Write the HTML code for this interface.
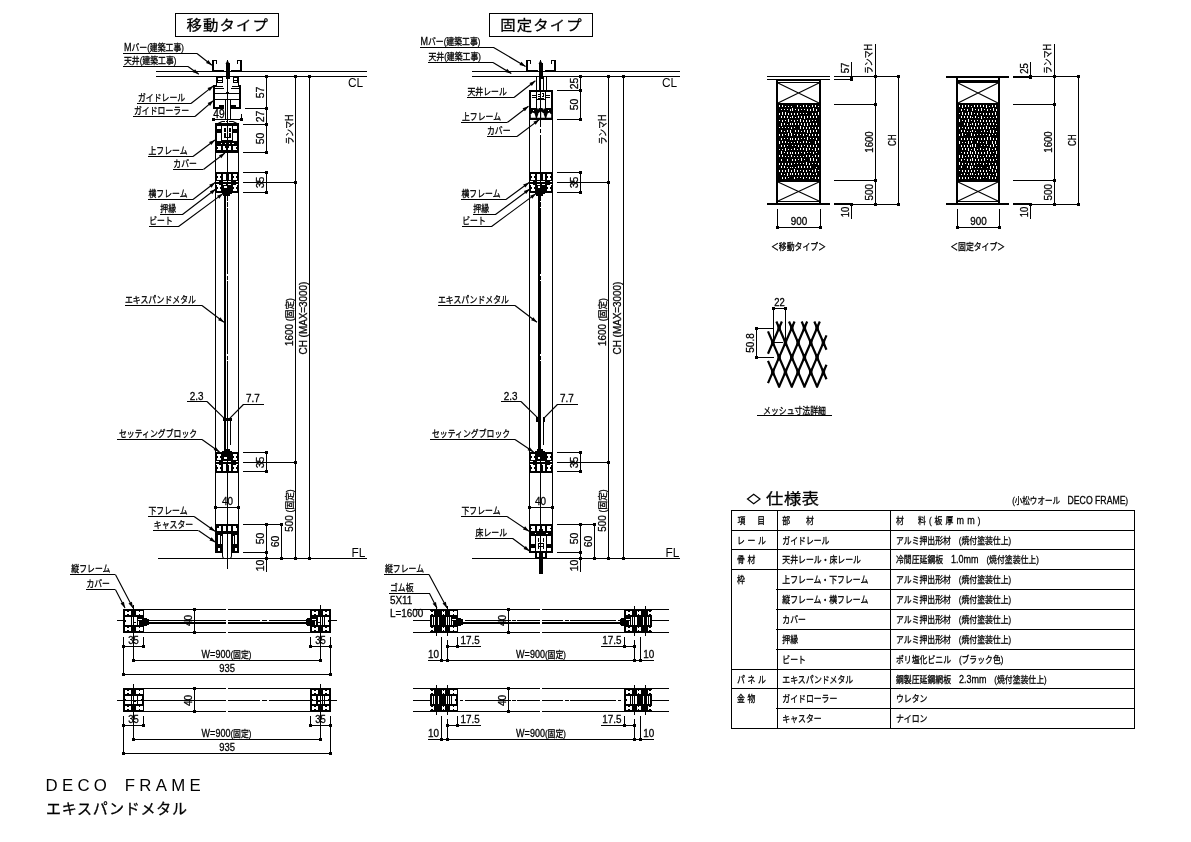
<!DOCTYPE html>
<html lang="ja"><head><meta charset="utf-8"><title>DECO FRAME エキスパンドメタル</title>
<style>html,body{margin:0;padding:0;background:#fff}svg{display:block}text{font-family:"Liberation Sans","Noto Sans CJK JP",sans-serif;fill:#000;stroke:#000;stroke-width:.3px}.c{shape-rendering:crispEdges;fill:none;stroke:#000}.a{fill:none;stroke:#000}.t2{stroke:none}.k rect{shape-rendering:crispEdges}.w{fill:#fff}.aa{shape-rendering:auto}</style></head><body>
<svg width="1191" height="842" viewBox="0 0 1191 842">
<rect class="w" width="1191" height="842"/>
<g class="k"><rect x="225.5" y="63" width="4" height="16"/>
<rect x="219" y="104.5" width="5" height="3.5"/>
<rect x="231" y="104.5" width="5" height="3.5"/>
<rect x="226" y="92" width="3" height="1"/>
<rect x="215" y="123" width="24" height="29.5"/>
<rect class="w" x="217.3" y="125.8" width="3.7" height="3.2"/>
<rect class="w" x="233" y="125.8" width="3.7" height="3.2"/>
<rect class="w" x="222.3" y="126" width="9.7" height="14.3"/>
<rect x="224.3" y="128.2" width="1.2" height="3.6"/>
<rect x="224.3" y="133.2" width="1.2" height="3.6"/>
<rect x="227.1" y="128.2" width="1.2" height="3.6"/>
<rect x="227.1" y="133.2" width="1.2" height="3.6"/>
<rect x="229.4" y="128.2" width="1.2" height="3.6"/>
<rect x="229.4" y="133.2" width="1.2" height="3.6"/>
<rect x="224.3" y="137.3" width="6.3" height=".7"/>
<rect class="w" x="217.3" y="132.5" width="3.7" height="8.5"/>
<rect class="w" x="233" y="132.5" width="3.7" height="8.5"/>
<rect class="w" x="220.5" y="142.5" width="1.5" height="1.5"/>
<rect class="w" x="224.5" y="142.5" width="1.5" height="1"/>
<rect class="w" x="228.5" y="142.5" width="1.5" height="1"/>
<rect class="w" x="232" y="142.5" width="1.5" height="1.5"/>
<rect class="w" x="217.3" y="145.5" width="3.7" height="4.8"/>
<rect class="w" x="223" y="145.5" width="3.3" height="4.8"/>
<rect class="w" x="228.3" y="145.5" width="3" height="4.8"/>
<rect class="w" x="233" y="145.5" width="3.7" height="4.8"/>
<rect x="217.3" y="147.3" width="1" height="1.2"/>
<rect x="235.7" y="147.3" width="1" height="1.2"/>
<rect x="225.3" y="145.5" width="1" height="2"/>
<rect x="228.3" y="145.5" width="1" height="2"/>
<rect x="215" y="172" width="24" height="21"/>
<rect class="w" x="217.3" y="174.3" width="4" height="5.5"/>
<rect x="217.3" y="176.15" width=".9" height="1.8"/>
<rect x="220.4" y="176.15" width=".9" height="1.8"/>
<rect class="w" x="233" y="174.3" width="3.7" height="5.5"/>
<rect x="233" y="176.15" width=".9" height="1.8"/>
<rect x="235.8" y="176.15" width=".9" height="1.8"/>
<rect class="w" x="217.3" y="185.3" width="4" height="6"/>
<rect x="217.3" y="187.4" width=".9" height="1.8"/>
<rect x="220.4" y="187.4" width=".9" height="1.8"/>
<rect class="w" x="233" y="185.3" width="3.7" height="6"/>
<rect x="233" y="187.4" width=".9" height="1.8"/>
<rect x="235.8" y="187.4" width=".9" height="1.8"/>
<rect class="w" x="223" y="174.3" width="3" height="5.5"/>
<rect class="w" x="228.5" y="174.3" width="2.8" height="5.5"/>
<rect class="w" x="224" y="186" width="3" height="1.8"/>
<rect class="w" x="215" y="181" width="3.5" height="1"/>
<rect class="w" x="215" y="183.5" width="3.5" height="1"/>
<rect class="w" x="235.5" y="181" width="3.5" height="1"/>
<rect class="w" x="235.5" y="183.5" width="3.5" height="1"/>
<rect class="w" x="223" y="180.8" width="8" height="1"/>
<rect class="w" x="223" y="183.5" width="3.3" height="1"/>
<rect class="w" x="228" y="183.5" width="3" height="1"/>
<rect x="222" y="192" width="9.5" height="2"/>
<rect x="223" y="194" width="6.5" height="2"/>
<path class="c" stroke-dasharray="4.6 1.4 4.7 1.6 66 1.5 4 1.5 73 1.5 4 1.5 100" d="M227.5 196V420"/>
<rect x="215" y="452" width="24" height="21"/>
<rect class="w" x="217.3" y="454.3" width="4" height="5.5"/>
<rect x="217.3" y="456.15" width=".9" height="1.8"/>
<rect x="220.4" y="456.15" width=".9" height="1.8"/>
<rect class="w" x="233" y="454.3" width="3.7" height="5.5"/>
<rect x="233" y="456.15" width=".9" height="1.8"/>
<rect x="235.8" y="456.15" width=".9" height="1.8"/>
<rect class="w" x="217.3" y="465.3" width="4" height="6"/>
<rect x="217.3" y="467.4" width=".9" height="1.8"/>
<rect x="220.4" y="467.4" width=".9" height="1.8"/>
<rect class="w" x="233" y="465.3" width="3.7" height="6"/>
<rect x="233" y="467.4" width=".9" height="1.8"/>
<rect x="235.8" y="467.4" width=".9" height="1.8"/>
<rect class="w" x="223" y="465.3" width="3" height="6"/>
<rect class="w" x="228.5" y="465.3" width="2.8" height="6"/>
<rect class="w" x="224" y="457.3" width="3" height="1.8"/>
<rect class="w" x="215" y="461" width="3.5" height="1"/>
<rect class="w" x="215" y="463.5" width="3.5" height="1"/>
<rect class="w" x="235.5" y="461" width="3.5" height="1"/>
<rect class="w" x="235.5" y="463.5" width="3.5" height="1"/>
<rect class="w" x="223" y="460.8" width="8" height="1"/>
<rect class="w" x="223" y="463.5" width="3.3" height="1"/>
<rect class="w" x="228" y="463.5" width="3" height="1"/>
<rect x="222" y="450.5" width="9.5" height="1.5"/>
<rect x="224" y="449" width="5.5" height="1.5"/>
<rect x="215" y="524" width="24" height="28.5"/>
<rect class="w" x="217.3" y="526.2" width="3.7" height="4.3"/>
<rect class="w" x="223" y="526.2" width="3.3" height="4.3"/>
<rect class="w" x="228.3" y="526.2" width="3" height="4.3"/>
<rect class="w" x="233" y="526.2" width="3.7" height="4.3"/>
<rect x="217.3" y="526.2" width="1.2" height="1.6"/>
<rect x="235.5" y="526.2" width="1.2" height="1.6"/>
<rect class="w" x="223" y="534" width="8.5" height="19"/>
<rect class="w" x="217.5" y="535" width="2" height="9"/>
<rect class="w" x="235" y="535" width="2" height="9"/>
<rect class="w" x="217.5" y="547.5" width="2" height="3"/>
<rect class="w" x="235" y="547.5" width="2" height="3"/>
<rect class="w" x="221" y="536" width="1" height="8"/>
<rect class="w" x="232.5" y="536" width="1" height="8"/>
<path class="a" d="M222.5 533V556Q222.5 558.5 224.5 558.5M231.5 533V556Q231.5 558.5 229.5 558.5"/>
<rect x="538.5" y="63" width="4" height="16"/>
<rect x="529" y="90" width="24" height="29.5"/>
<rect class="w" x="530.8" y="91.6" width="5" height="16.7"/>
<rect class="w" x="546.3" y="91.6" width="4.9" height="16.7"/>
<rect x="532.2" y="95" width="3.6" height="1"/>
<rect x="532.2" y="97.2" width="3.6" height="1.2"/>
<rect x="546.3" y="95" width="3.5" height="1"/>
<rect x="546.3" y="97.2" width="3.5" height="1.2"/>
<rect class="w" x="530.8" y="98.8" width=".8" height=".8"/>
<rect class="w" x="536.8" y="91.6" width="8.5" height="7.7"/>
<rect x="537.8" y="93.6" width="2.2" height=".9"/>
<rect x="537.8" y="95.6" width="2.2" height=".9"/>
<rect x="537.8" y="97.6" width="5.7" height="1.7"/>
<rect x="541.6" y="93.4" width="2" height="3.2"/>
<rect class="w" x="542.2" y="94.2" width=".8" height="1.6"/>
<rect x="540.6" y="91.6" width=".6" height="7.7"/>
<rect class="w" x="537" y="99.8" width="3.2" height="8.5"/>
<rect class="w" x="541.2" y="99.8" width="4.1" height="8.5"/>
<rect class="w" x="532.6" y="109.8" width="1.4" height="1.2"/>
<rect class="w" x="548" y="109.8" width="1.4" height="1.2"/>
<path class="w aa" d="M537 108.3L539.3 108.3L538 109.6Z"/>
<path class="w aa" d="M542.2 108.3L545.3 108.3L543.6 109.6Z"/>
<path class="w aa" d="M530.8 117.8L535.8 117.8L534.6 113.6L532.6 112.4L530.8 114.6Z"/>
<path class="w aa" d="M537 117.8L540.2 117.8L540.2 111.6L538.6 113.2Z"/>
<path class="w aa" d="M541.2 117.8L545 117.8L543.4 113.2L541.2 111.6Z"/>
<path class="w aa" d="M546.3 117.8L551.2 117.8L551.2 114.6L549.4 112.4L547.6 113.6Z"/>
<rect x="529" y="172" width="24" height="21"/>
<rect class="w" x="531.3" y="174.3" width="4" height="5.5"/>
<rect x="531.3" y="176.15" width=".9" height="1.8"/>
<rect x="534.4" y="176.15" width=".9" height="1.8"/>
<rect class="w" x="547" y="174.3" width="3.7" height="5.5"/>
<rect x="547" y="176.15" width=".9" height="1.8"/>
<rect x="549.8" y="176.15" width=".9" height="1.8"/>
<rect class="w" x="531.3" y="185.3" width="4" height="6"/>
<rect x="531.3" y="187.4" width=".9" height="1.8"/>
<rect x="534.4" y="187.4" width=".9" height="1.8"/>
<rect class="w" x="547" y="185.3" width="3.7" height="6"/>
<rect x="547" y="187.4" width=".9" height="1.8"/>
<rect x="549.8" y="187.4" width=".9" height="1.8"/>
<rect class="w" x="537" y="174.3" width="3" height="5.5"/>
<rect class="w" x="542.5" y="174.3" width="2.8" height="5.5"/>
<rect class="w" x="538" y="186" width="3" height="1.8"/>
<rect class="w" x="529" y="181" width="3.5" height="1"/>
<rect class="w" x="529" y="183.5" width="3.5" height="1"/>
<rect class="w" x="549.5" y="181" width="3.5" height="1"/>
<rect class="w" x="549.5" y="183.5" width="3.5" height="1"/>
<rect class="w" x="537" y="180.8" width="8" height="1"/>
<rect class="w" x="537" y="183.5" width="3.3" height="1"/>
<rect class="w" x="542" y="183.5" width="3" height="1"/>
<rect x="535" y="192" width="9.5" height="2"/>
<rect x="536" y="194" width="6.5" height="2"/>
<path class="c" stroke-dasharray="4.6 1.4 4.7 1.6 66 1.5 4 1.5 73 1.5 4 1.5 100" d="M540.5 196V420"/>
<rect x="529" y="452" width="24" height="21"/>
<rect class="w" x="531.3" y="454.3" width="4" height="5.5"/>
<rect x="531.3" y="456.15" width=".9" height="1.8"/>
<rect x="534.4" y="456.15" width=".9" height="1.8"/>
<rect class="w" x="547" y="454.3" width="3.7" height="5.5"/>
<rect x="547" y="456.15" width=".9" height="1.8"/>
<rect x="549.8" y="456.15" width=".9" height="1.8"/>
<rect class="w" x="531.3" y="465.3" width="4" height="6"/>
<rect x="531.3" y="467.4" width=".9" height="1.8"/>
<rect x="534.4" y="467.4" width=".9" height="1.8"/>
<rect class="w" x="547" y="465.3" width="3.7" height="6"/>
<rect x="547" y="467.4" width=".9" height="1.8"/>
<rect x="549.8" y="467.4" width=".9" height="1.8"/>
<rect class="w" x="537" y="465.3" width="3" height="6"/>
<rect class="w" x="542.5" y="465.3" width="2.8" height="6"/>
<rect class="w" x="538" y="457.3" width="3" height="1.8"/>
<rect class="w" x="529" y="461" width="3.5" height="1"/>
<rect class="w" x="529" y="463.5" width="3.5" height="1"/>
<rect class="w" x="549.5" y="461" width="3.5" height="1"/>
<rect class="w" x="549.5" y="463.5" width="3.5" height="1"/>
<rect class="w" x="537" y="460.8" width="8" height="1"/>
<rect class="w" x="537" y="463.5" width="3.3" height="1"/>
<rect class="w" x="542" y="463.5" width="3" height="1"/>
<rect x="535" y="450.5" width="9.5" height="1.5"/>
<rect x="537" y="449" width="5.5" height="1.5"/>
<rect x="529" y="524" width="24" height="29"/>
<rect class="w" x="531.3" y="526.2" width="3.7" height="4.8"/>
<rect class="w" x="537" y="526.2" width="3.3" height="4.8"/>
<rect class="w" x="542.3" y="526.2" width="3" height="4.8"/>
<rect class="w" x="547" y="526.2" width="3.7" height="4.8"/>
<rect x="531.3" y="528" width="1" height="1.2"/>
<rect x="549.7" y="528" width="1" height="1.2"/>
<rect x="539.3" y="529" width="1" height="2"/>
<rect x="542.3" y="529" width="1" height="2"/>
<rect class="w" x="534.5" y="532.5" width="1.5" height="1.5"/>
<rect class="w" x="546" y="532.5" width="1.5" height="1.5"/>
<rect class="w" x="531.3" y="535.5" width="3.7" height="8.5"/>
<rect class="w" x="547" y="535.5" width="3.7" height="8.5"/>
<rect class="w" x="536.3" y="536.2" width="9.7" height="14.3"/>
<rect x="538.2" y="538" width="1" height="4"/>
<rect x="538.2" y="544" width="1" height="5"/>
<rect x="540.4" y="538" width="1" height="4"/>
<rect x="540.4" y="544" width="1" height="5"/>
<rect x="543.2" y="538" width="1" height="4"/>
<rect x="543.2" y="544" width="1" height="5"/>
<rect x="538.2" y="542.5" width="6" height="1"/>
<rect x="538.2" y="546" width="6" height="1"/>
<rect class="w" x="531.3" y="547.5" width="3.7" height="3.2"/>
<rect class="w" x="547" y="547.5" width="3.7" height="3.2"/>
<rect x="535" y="552" width="12" height="6"/>
<rect class="w" x="537" y="553" width="1.5" height="4"/>
<rect class="w" x="540" y="553" width="1" height="4"/>
<rect class="w" x="543" y="553" width="1.5" height="4"/>
<rect x="539" y="558" width="4" height="16"/>
<rect x="123" y="609" width="21" height="24"/>
<rect class="w" x="125" y="610.7" width="6" height="4.5"/>
<rect class="w" x="136" y="610.7" width="6.5" height="4.5"/>
<rect x="127.3" y="610.7" width="1.4" height="1.3"/>
<rect x="127.3" y="613.9" width="1.4" height="1.3"/>
<rect x="138.5" y="610.7" width="1.4" height="1.3"/>
<rect x="138.5" y="613.9" width="1.4" height="1.3"/>
<rect class="w" x="125" y="626.5" width="6" height="4.5"/>
<rect class="w" x="136" y="626.5" width="6.5" height="4.5"/>
<rect x="127.3" y="626.5" width="1.4" height="1.3"/>
<rect x="127.3" y="629.7" width="1.4" height="1.3"/>
<rect x="138.5" y="626.5" width="1.4" height="1.3"/>
<rect x="138.5" y="629.7" width="1.4" height="1.3"/>
<rect class="w" x="125" y="617.3" width="4.5" height="7.5"/>
<rect x="125" y="620.3" width="1.2" height="1.4"/>
<rect class="w" x="130.3" y="617.3" width=".9" height="7.5"/>
<rect class="w" x="132.2" y="617.3" width="4.3" height="7.5"/>
<rect x="133.3" y="619" width=".9" height="4.3"/>
<rect x="133.3" y="622.3" width="2.3" height="1"/>
<rect class="w" x="138" y="618.5" width="4" height="1"/>
<rect class="w" x="138" y="620.5" width="1" height="4.3"/>
<rect x="142" y="617.5" width="5" height="8.5"/>
<rect x="147" y="618.5" width="1.5" height="6.5"/>
<rect x="310" y="609" width="21" height="24"/>
<rect class="w" x="323" y="610.7" width="6" height="4.5"/>
<rect class="w" x="311.5" y="610.7" width="6.5" height="4.5"/>
<rect x="325.3" y="610.7" width="1.4" height="1.3"/>
<rect x="325.3" y="613.9" width="1.4" height="1.3"/>
<rect x="314.1" y="610.7" width="1.4" height="1.3"/>
<rect x="314.1" y="613.9" width="1.4" height="1.3"/>
<rect class="w" x="323" y="626.5" width="6" height="4.5"/>
<rect class="w" x="311.5" y="626.5" width="6.5" height="4.5"/>
<rect x="325.3" y="626.5" width="1.4" height="1.3"/>
<rect x="325.3" y="629.7" width="1.4" height="1.3"/>
<rect x="314.1" y="626.5" width="1.4" height="1.3"/>
<rect x="314.1" y="629.7" width="1.4" height="1.3"/>
<rect class="w" x="324.5" y="617.3" width="4.5" height="7.5"/>
<rect x="327.8" y="620.3" width="1.2" height="1.4"/>
<rect class="w" x="322.8" y="617.3" width=".9" height="7.5"/>
<rect class="w" x="317.5" y="617.3" width="4.3" height="7.5"/>
<rect x="319.8" y="619" width=".9" height="4.3"/>
<rect x="318.4" y="622.3" width="2.3" height="1"/>
<rect class="w" x="312" y="618.5" width="4" height="1"/>
<rect class="w" x="315" y="620.5" width="1" height="4.3"/>
<rect x="307" y="617.5" width="5" height="8.5"/>
<rect x="305.5" y="618.5" width="1.5" height="6.5"/>
<rect x="123" y="688" width="21" height="24"/>
<rect class="w" x="125" y="689.7" width="6" height="4.5"/>
<rect class="w" x="136" y="689.7" width="6.5" height="4.5"/>
<rect x="127.3" y="689.7" width="1.4" height="1.3"/>
<rect x="127.3" y="692.9" width="1.4" height="1.3"/>
<rect x="138.5" y="689.7" width="1.4" height="1.3"/>
<rect x="138.5" y="692.9" width="1.4" height="1.3"/>
<rect class="w" x="125" y="705.5" width="6" height="4.5"/>
<rect class="w" x="136" y="705.5" width="6.5" height="4.5"/>
<rect x="127.3" y="705.5" width="1.4" height="1.3"/>
<rect x="127.3" y="708.7" width="1.4" height="1.3"/>
<rect x="138.5" y="705.5" width="1.4" height="1.3"/>
<rect x="138.5" y="708.7" width="1.4" height="1.3"/>
<rect class="w" x="125" y="696.3" width="4.5" height="7.5"/>
<rect x="125" y="699.3" width="1.2" height="1.4"/>
<rect class="w" x="130.3" y="696.3" width=".9" height="7.5"/>
<rect class="w" x="132.2" y="696.3" width="4.3" height="7.5"/>
<rect x="133.3" y="698" width=".9" height="4.3"/>
<rect x="133.3" y="701.3" width="2.3" height="1"/>
<rect class="w" x="138" y="696.3" width="4" height="7.5"/>
<rect x="140.8" y="699.3" width="1.2" height="1.4"/>
<rect x="310" y="688" width="21" height="24"/>
<rect class="w" x="323" y="689.7" width="6" height="4.5"/>
<rect class="w" x="311.5" y="689.7" width="6.5" height="4.5"/>
<rect x="325.3" y="689.7" width="1.4" height="1.3"/>
<rect x="325.3" y="692.9" width="1.4" height="1.3"/>
<rect x="314.1" y="689.7" width="1.4" height="1.3"/>
<rect x="314.1" y="692.9" width="1.4" height="1.3"/>
<rect class="w" x="323" y="705.5" width="6" height="4.5"/>
<rect class="w" x="311.5" y="705.5" width="6.5" height="4.5"/>
<rect x="325.3" y="705.5" width="1.4" height="1.3"/>
<rect x="325.3" y="708.7" width="1.4" height="1.3"/>
<rect x="314.1" y="705.5" width="1.4" height="1.3"/>
<rect x="314.1" y="708.7" width="1.4" height="1.3"/>
<rect class="w" x="324.5" y="696.3" width="4.5" height="7.5"/>
<rect x="327.8" y="699.3" width="1.2" height="1.4"/>
<rect class="w" x="322.8" y="696.3" width=".9" height="7.5"/>
<rect class="w" x="317.5" y="696.3" width="4.3" height="7.5"/>
<rect x="319.8" y="698" width=".9" height="4.3"/>
<rect x="318.4" y="701.3" width="2.3" height="1"/>
<rect class="w" x="312" y="696.3" width="4" height="7.5"/>
<rect x="312" y="699.3" width="1.2" height="1.4"/>
<rect x="430" y="609" width="28" height="24"/>
<rect class="w" x="430" y="610.7" width="4" height="4.5"/>
<rect class="w" x="441.5" y="610.7" width="3.5" height="4.5"/>
<rect class="w" x="450" y="610.7" width="6.5" height="4.5"/>
<rect x="431.3" y="610.7" width="1.4" height="1.3"/>
<rect x="431.3" y="613.9" width="1.4" height="1.3"/>
<rect x="442.6" y="610.7" width="1.3" height="1.3"/>
<rect x="442.6" y="613.9" width="1.3" height="1.3"/>
<rect x="452.5" y="610.7" width="1.4" height="1.3"/>
<rect x="452.5" y="613.9" width="1.4" height="1.3"/>
<rect class="w" x="430" y="626.5" width="4" height="4.5"/>
<rect class="w" x="441.5" y="626.5" width="3.5" height="4.5"/>
<rect class="w" x="450" y="626.5" width="6.5" height="4.5"/>
<rect x="431.3" y="626.5" width="1.4" height="1.3"/>
<rect x="431.3" y="629.7" width="1.4" height="1.3"/>
<rect x="442.6" y="626.5" width="1.3" height="1.3"/>
<rect x="442.6" y="629.7" width="1.3" height="1.3"/>
<rect x="452.5" y="626.5" width="1.4" height="1.3"/>
<rect x="452.5" y="629.7" width="1.4" height="1.3"/>
<rect class="w" x="432" y="617.3" width="1" height="7.5"/>
<rect class="w" x="434.3" y="617.3" width=".9" height="7.5"/>
<rect class="w" x="436.4" y="617.3" width=".9" height="7.5"/>
<rect class="w" x="438.4" y="617.3" width=".9" height="7.5"/>
<rect class="w" x="445.5" y="617.3" width="3.5" height="7.5"/>
<rect x="446.6" y="619" width="1" height="4.3"/>
<rect class="w" x="450.3" y="617.3" width=".8" height="7.5"/>
<rect class="w" x="452" y="618.5" width="4" height="1"/>
<rect class="w" x="452" y="620.5" width="1" height="4.3"/>
<rect x="456" y="617.5" width="5" height="8.5"/>
<rect x="461" y="618.5" width="1.5" height="6.5"/>
<rect x="624" y="609" width="28" height="24"/>
<rect class="w" x="648" y="610.7" width="4" height="4.5"/>
<rect class="w" x="637" y="610.7" width="3.5" height="4.5"/>
<rect class="w" x="625.5" y="610.7" width="6.5" height="4.5"/>
<rect x="649.3" y="610.7" width="1.4" height="1.3"/>
<rect x="649.3" y="613.9" width="1.4" height="1.3"/>
<rect x="638.1" y="610.7" width="1.3" height="1.3"/>
<rect x="638.1" y="613.9" width="1.3" height="1.3"/>
<rect x="628.1" y="610.7" width="1.4" height="1.3"/>
<rect x="628.1" y="613.9" width="1.4" height="1.3"/>
<rect class="w" x="648" y="626.5" width="4" height="4.5"/>
<rect class="w" x="637" y="626.5" width="3.5" height="4.5"/>
<rect class="w" x="625.5" y="626.5" width="6.5" height="4.5"/>
<rect x="649.3" y="626.5" width="1.4" height="1.3"/>
<rect x="649.3" y="629.7" width="1.4" height="1.3"/>
<rect x="638.1" y="626.5" width="1.3" height="1.3"/>
<rect x="638.1" y="629.7" width="1.3" height="1.3"/>
<rect x="628.1" y="626.5" width="1.4" height="1.3"/>
<rect x="628.1" y="629.7" width="1.4" height="1.3"/>
<rect class="w" x="649" y="617.3" width="1" height="7.5"/>
<rect class="w" x="646.8" y="617.3" width=".9" height="7.5"/>
<rect class="w" x="644.7" y="617.3" width=".9" height="7.5"/>
<rect class="w" x="642.7" y="617.3" width=".9" height="7.5"/>
<rect class="w" x="633" y="617.3" width="3.5" height="7.5"/>
<rect x="634.4" y="619" width="1" height="4.3"/>
<rect class="w" x="630.9" y="617.3" width=".8" height="7.5"/>
<rect class="w" x="626" y="618.5" width="4" height="1"/>
<rect class="w" x="629" y="620.5" width="1" height="4.3"/>
<rect x="621" y="617.5" width="5" height="8.5"/>
<rect x="619.5" y="618.5" width="1.5" height="6.5"/>
<rect x="430" y="688" width="28" height="24"/>
<rect class="w" x="430" y="689.7" width="4" height="4.5"/>
<rect class="w" x="441.5" y="689.7" width="3.5" height="4.5"/>
<rect class="w" x="450" y="689.7" width="6.5" height="4.5"/>
<rect x="431.3" y="689.7" width="1.4" height="1.3"/>
<rect x="431.3" y="692.9" width="1.4" height="1.3"/>
<rect x="442.6" y="689.7" width="1.3" height="1.3"/>
<rect x="442.6" y="692.9" width="1.3" height="1.3"/>
<rect x="452.5" y="689.7" width="1.4" height="1.3"/>
<rect x="452.5" y="692.9" width="1.4" height="1.3"/>
<rect class="w" x="430" y="705.5" width="4" height="4.5"/>
<rect class="w" x="441.5" y="705.5" width="3.5" height="4.5"/>
<rect class="w" x="450" y="705.5" width="6.5" height="4.5"/>
<rect x="431.3" y="705.5" width="1.4" height="1.3"/>
<rect x="431.3" y="708.7" width="1.4" height="1.3"/>
<rect x="442.6" y="705.5" width="1.3" height="1.3"/>
<rect x="442.6" y="708.7" width="1.3" height="1.3"/>
<rect x="452.5" y="705.5" width="1.4" height="1.3"/>
<rect x="452.5" y="708.7" width="1.4" height="1.3"/>
<rect class="w" x="432" y="696.3" width="1" height="7.5"/>
<rect class="w" x="434.3" y="696.3" width=".9" height="7.5"/>
<rect class="w" x="436.4" y="696.3" width=".9" height="7.5"/>
<rect class="w" x="438.4" y="696.3" width=".9" height="7.5"/>
<rect class="w" x="445.5" y="696.3" width="3.5" height="7.5"/>
<rect x="446.6" y="698" width="1" height="4.3"/>
<rect class="w" x="450.3" y="696.3" width=".8" height="7.5"/>
<rect class="w" x="452" y="696.3" width="4" height="7.5"/>
<rect x="454.8" y="699.3" width="1.2" height="1.4"/>
<rect x="624" y="688" width="28" height="24"/>
<rect class="w" x="648" y="689.7" width="4" height="4.5"/>
<rect class="w" x="637" y="689.7" width="3.5" height="4.5"/>
<rect class="w" x="625.5" y="689.7" width="6.5" height="4.5"/>
<rect x="649.3" y="689.7" width="1.4" height="1.3"/>
<rect x="649.3" y="692.9" width="1.4" height="1.3"/>
<rect x="638.1" y="689.7" width="1.3" height="1.3"/>
<rect x="638.1" y="692.9" width="1.3" height="1.3"/>
<rect x="628.1" y="689.7" width="1.4" height="1.3"/>
<rect x="628.1" y="692.9" width="1.4" height="1.3"/>
<rect class="w" x="648" y="705.5" width="4" height="4.5"/>
<rect class="w" x="637" y="705.5" width="3.5" height="4.5"/>
<rect class="w" x="625.5" y="705.5" width="6.5" height="4.5"/>
<rect x="649.3" y="705.5" width="1.4" height="1.3"/>
<rect x="649.3" y="708.7" width="1.4" height="1.3"/>
<rect x="638.1" y="705.5" width="1.3" height="1.3"/>
<rect x="638.1" y="708.7" width="1.3" height="1.3"/>
<rect x="628.1" y="705.5" width="1.4" height="1.3"/>
<rect x="628.1" y="708.7" width="1.4" height="1.3"/>
<rect class="w" x="649" y="696.3" width="1" height="7.5"/>
<rect class="w" x="646.8" y="696.3" width=".9" height="7.5"/>
<rect class="w" x="644.7" y="696.3" width=".9" height="7.5"/>
<rect class="w" x="642.7" y="696.3" width=".9" height="7.5"/>
<rect class="w" x="633" y="696.3" width="3.5" height="7.5"/>
<rect x="634.4" y="698" width="1" height="4.3"/>
<rect class="w" x="630.9" y="696.3" width=".8" height="7.5"/>
<rect class="w" x="626" y="696.3" width="4" height="7.5"/>
<rect x="626" y="699.3" width="1.2" height="1.4"/>
<rect x="778" y="104" width="41" height="77"/>
<path stroke="#fff" stroke-width="1" fill="none" shape-rendering="crispEdges" d="M779.5 105v2M782.5 105v2M785.5 106v1M788.5 106v1M791.5 106v1M797.5 105v2M800.5 106v1M803.5 105v2M806.5 105v2M809.5 106v1M812.5 105v2M815.5 105v2M818.5 106v1M781.5 109v1M784.5 109v1M787.5 109v1M790.5 109v2M792.5 108v3M795.5 109v1M798.5 109v2M801.5 109v1M804.5 109v1M807.5 109v2M810.5 109v2M813.5 108v3M816.5 109v2M779.5 113v2M782.5 112v3M785.5 112v3M788.5 113v2M791.5 113v2M794.5 113v2M797.5 113v2M800.5 113v1M803.5 113v1M806.5 113v1M812.5 113v2M815.5 113v2M818.5 112v3M781.5 116v2M784.5 116v2M787.5 116v2M790.5 117v1M792.5 116v2M795.5 117v1M798.5 116v2M801.5 116v2M804.5 116v3M807.5 116v2M810.5 116v2M813.5 116v2M816.5 116v2M779.5 120v1M782.5 120v2M785.5 120v1M788.5 119v3M791.5 120v1M794.5 120v2M797.5 120v1M800.5 119v3M803.5 120v2M806.5 120v2M809.5 120v2M812.5 120v1M815.5 120v1M781.5 123v3M784.5 123v2M787.5 124v1M790.5 123v2M792.5 123v2M795.5 123v2M798.5 123v2M801.5 123v2M804.5 123v3M807.5 123v3M810.5 123v2M813.5 123v2M816.5 123v2M779.5 127v1M782.5 127v1M785.5 127v1M788.5 127v1M791.5 127v2M794.5 127v1M800.5 126v3M803.5 127v2M806.5 127v2M809.5 127v2M812.5 127v1M815.5 127v2M818.5 127v2M781.5 130v2M784.5 131v1M787.5 130v2M790.5 130v3M795.5 130v2M798.5 130v2M801.5 131v1M804.5 130v2M807.5 130v3M810.5 130v3M813.5 130v2M816.5 130v2M779.5 134v2M782.5 134v2M785.5 134v1M788.5 133v3M791.5 133v3M794.5 134v1M797.5 134v2M800.5 134v1M803.5 134v2M806.5 134v1M809.5 134v2M812.5 134v2M815.5 134v2M818.5 134v2M781.5 138v2M784.5 138v1M787.5 138v1M790.5 138v2M792.5 138v2M795.5 138v2M798.5 138v2M801.5 138v1M804.5 138v1M807.5 137v3M810.5 138v1M813.5 138v1M816.5 138v2M779.5 141v3M782.5 141v2M785.5 141v2M788.5 142v1M791.5 142v1M794.5 142v1M797.5 141v2M800.5 142v1M803.5 141v2M806.5 141v2M809.5 142v1M815.5 141v3M818.5 141v2M781.5 145v2M784.5 145v2M787.5 145v1M792.5 145v1M795.5 145v1M798.5 145v2M801.5 145v2M804.5 145v1M807.5 145v2M810.5 145v2M813.5 145v2M816.5 145v2M779.5 149v1M782.5 149v1M785.5 148v3M788.5 149v1M791.5 149v1M794.5 148v2M797.5 149v1M800.5 148v2M803.5 148v2M806.5 148v3M809.5 148v2M812.5 149v1M815.5 148v3M818.5 148v2M781.5 151v3M784.5 152v1M787.5 152v2M790.5 152v2M792.5 152v2M795.5 152v2M798.5 152v2M801.5 152v1M804.5 152v2M807.5 152v1M810.5 152v1M813.5 152v2M816.5 152v1M779.5 155v2M782.5 155v2M785.5 156v1M788.5 156v1M791.5 155v2M794.5 156v1M797.5 156v1M800.5 156v1M803.5 156v1M806.5 155v2M809.5 155v2M812.5 156v1M815.5 155v2M818.5 155v2M781.5 159v2M787.5 159v2M792.5 159v2M795.5 159v2M798.5 159v1M801.5 158v3M804.5 159v1M810.5 158v3M813.5 158v3M816.5 159v2M779.5 163v2M782.5 163v2M785.5 163v2M788.5 163v2M791.5 163v2M794.5 163v1M797.5 163v1M800.5 163v1M803.5 163v1M806.5 162v3M809.5 163v2M812.5 163v1M815.5 163v1M818.5 163v2M781.5 166v2M784.5 166v2M787.5 167v1M790.5 167v1M792.5 167v1M795.5 167v1M798.5 166v2M801.5 166v2M804.5 166v2M807.5 166v2M810.5 166v2M816.5 167v1M779.5 170v2M782.5 170v2M785.5 170v2M788.5 169v3M791.5 170v2M794.5 169v3M797.5 170v2M800.5 170v1M803.5 170v2M806.5 170v2M809.5 170v1M812.5 170v2M815.5 169v3M818.5 170v1M781.5 173v2M784.5 174v1M787.5 173v3M790.5 173v2M792.5 173v2M795.5 173v2M798.5 173v2M801.5 173v2M804.5 173v2M807.5 173v2M810.5 173v2M813.5 174v1M816.5 173v2M782.5 177v2M785.5 177v2M788.5 177v1M794.5 177v2M797.5 177v1M800.5 177v1M803.5 177v2M806.5 177v1M809.5 177v2M812.5 177v1M815.5 177v2M818.5 177v2"/>
<rect x="958" y="104" width="40" height="77"/>
<path stroke="#fff" stroke-width="1" fill="none" shape-rendering="crispEdges" d="M959.5 105v2M962.5 105v3M965.5 105v2M968.5 105v2M971.5 106v1M974.5 105v2M977.5 105v2M980.5 105v2M983.5 105v2M986.5 105v3M989.5 106v1M992.5 105v2M995.5 105v2M961.5 109v2M964.5 109v1M967.5 109v2M972.5 108v3M975.5 109v1M978.5 109v2M981.5 108v3M984.5 109v1M987.5 109v2M990.5 109v1M993.5 108v3M996.5 109v2M959.5 113v1M962.5 112v3M965.5 113v2M968.5 112v3M971.5 112v3M974.5 113v1M977.5 113v2M980.5 113v1M983.5 113v2M986.5 113v2M989.5 113v2M992.5 113v2M995.5 112v3M961.5 116v2M964.5 116v2M967.5 116v2M970.5 116v2M972.5 117v1M975.5 116v2M978.5 117v1M981.5 116v3M984.5 117v1M987.5 117v1M990.5 117v1M993.5 117v1M996.5 116v2M959.5 119v3M962.5 120v1M965.5 120v2M968.5 119v3M971.5 120v1M974.5 120v2M977.5 120v1M980.5 120v2M983.5 120v2M986.5 120v2M989.5 120v2M992.5 120v2M995.5 120v2M964.5 123v2M967.5 123v3M970.5 124v1M972.5 123v2M975.5 123v3M978.5 123v2M981.5 123v2M984.5 124v1M987.5 123v2M990.5 123v2M993.5 123v2M996.5 124v1M959.5 127v2M962.5 127v1M965.5 127v2M968.5 127v2M971.5 127v2M974.5 127v2M977.5 127v2M980.5 127v2M983.5 127v2M986.5 126v3M989.5 127v2M992.5 127v1M995.5 127v1M961.5 130v2M964.5 130v2M967.5 131v1M970.5 131v1M972.5 130v2M975.5 131v1M981.5 131v1M984.5 130v2M987.5 131v1M990.5 130v3M993.5 130v3M996.5 131v1M959.5 134v2M962.5 133v3M965.5 134v1M971.5 133v3M974.5 134v2M977.5 134v1M980.5 134v1M983.5 134v1M986.5 134v1M989.5 134v2M992.5 134v1M995.5 134v1M961.5 138v2M964.5 138v2M967.5 138v2M970.5 138v2M972.5 138v2M975.5 138v1M978.5 138v2M981.5 138v2M984.5 138v2M987.5 137v3M990.5 137v3M993.5 138v2M996.5 138v2M959.5 141v3M962.5 142v1M965.5 142v1M968.5 141v3M971.5 141v2M977.5 141v2M980.5 142v1M983.5 142v1M986.5 141v3M992.5 141v3M995.5 141v3M961.5 145v2M964.5 145v2M967.5 145v2M970.5 145v2M972.5 144v3M975.5 144v3M981.5 145v1M984.5 145v1M987.5 145v1M990.5 145v2M993.5 144v3M996.5 145v1M962.5 148v2M965.5 148v2M968.5 148v3M971.5 149v1M974.5 148v3M977.5 149v1M980.5 148v2M983.5 149v1M986.5 148v2M989.5 148v3M992.5 149v1M995.5 148v2M961.5 152v1M964.5 152v2M967.5 152v2M970.5 151v3M972.5 152v2M975.5 151v3M978.5 152v2M981.5 152v2M984.5 152v2M987.5 151v3M990.5 152v2M993.5 152v1M996.5 151v3M959.5 155v3M962.5 155v3M965.5 156v1M968.5 155v2M971.5 155v2M974.5 155v2M977.5 155v3M980.5 156v1M983.5 156v1M986.5 155v2M989.5 155v2M992.5 156v1M995.5 155v2M961.5 159v2M964.5 159v1M967.5 159v2M970.5 159v2M972.5 158v3M975.5 159v2M978.5 159v2M981.5 159v2M984.5 158v3M987.5 159v1M990.5 159v2M993.5 159v2M996.5 159v1M959.5 162v3M962.5 163v2M965.5 163v1M968.5 163v2M971.5 163v2M974.5 163v2M977.5 163v1M980.5 163v1M983.5 163v2M986.5 163v1M989.5 163v2M992.5 163v1M995.5 163v2M961.5 166v2M967.5 166v2M970.5 166v3M972.5 166v2M975.5 167v1M978.5 167v1M981.5 167v1M987.5 167v1M990.5 166v3M993.5 166v2M996.5 166v3M959.5 170v1M962.5 170v2M965.5 170v2M968.5 170v2M971.5 170v2M974.5 170v2M977.5 170v1M980.5 170v2M983.5 170v2M986.5 170v2M989.5 170v1M992.5 169v3M995.5 170v2M961.5 174v1M964.5 173v2M967.5 174v1M970.5 173v2M972.5 173v2M975.5 174v1M978.5 173v2M981.5 173v2M984.5 173v2M987.5 173v2M990.5 174v1M993.5 174v1M996.5 173v3M959.5 177v2M962.5 177v2M965.5 177v2M968.5 177v2M971.5 177v1M974.5 177v1M977.5 177v2M980.5 177v2M983.5 177v1M986.5 177v1M989.5 176v3M992.5 177v2M995.5 177v2"/></g>
<path class="c" stroke-width="1" d="M156 71.5H367M156 76.5H367M158 558.5H367M212 60.5H217M237 60.5H242M216.5 60V64M237.5 60V64M227.5 60V196M215.5 123V553M238.5 123V553M216.5 77V86M238.5 77V86M213 85.5H217M238 85.5H241M214 93.5H240M214 99.5H240M217 77.5H223M217 82.5H223M217.5 77V83M222.5 77V83M233 77.5H238M233 82.5H238M233.5 77V83M237.5 77V83M217 80.5H222M233 80.5H238M215 86.5H223M215 88.5H224M232 86.5H240M231 88.5H240M225.5 99V120M230.5 99V120M213 119.5H242M241.5 114V119M222 121.5H225M226 121.5H228M229 121.5H233M227.5 420V569M230.5 420V445M215 507.5H239M266.5 76V153M245 108.5H266M243 124.5H266M243 152.5H266M266.5 172V193M243 172.5H266M243 192.5H266M243 182.5H295M266.5 452V472M243 452.5H266M243 471.5H266M243 462.5H295M266.5 524V572M243 524.5H282M243 552.5H266M281.5 524V559M295.5 76V559M309.5 76V559M123 53.5H197M123 66.5H188M137 103.5H191M133 116.5H195M148 156.5H193M173 169.5H203.4M148 516.5H194.1M152.8 530.5H198.4M148 199.5H193M160 214.5H182.5M149 226.5H178.6M125 305.5H202M117 439.5H202M187 401.5H207M243.4 404.5H264M472 71.5H680M472 76.5H680M472 558.5H680M526 60.5H531M551 60.5H556M530.5 60V64M551.5 60V64M540.5 60V127M540.5 128.5V133M540.5 134.5V196M529.5 90V553M552.5 90V553M536.5 77V91M543.5 77V91M546.5 77V91M540.5 420V559M543.5 420V445M529 507.5H553M580.5 76V120M557 90.5H580M557 119.5H580M580.5 172V193M557 172.5H580M557 192.5H580M557 182.5H608M580.5 452V472M557 452.5H580M557 471.5H580M557 462.5H608M580.5 524V572M557 524.5H595M557 552.5H580M594.5 524V559M608.5 76V559M623.5 76V559M420 47.5H493.6M428 62.5H493M467 97.5H514M461 122.5H507.3M486.5 136.5H517M461 516.5H507.1M475 538.5H512.7M461 199.5H506M473 214.5H495.5M462 226.5H491.6M438 305.5H515M430 439.5H515M501 401.5H521M557.4 404.5H578M175 13.5H279M175 36.5H279M175.5 13V37M278.5 13V37M489 13.5H593M489 36.5H593M489.5 13V37M592.5 13V37M144 609.5H226M228 609.5H310M144 632.5H226M228 632.5H310M117 620.5H123M331 620.5H337M146 620.5H226M228 620.5H260M262 620.5H267M269 620.5H308M194.5 609V633M123 646.5H144M310 646.5H331M143.5 637V647M310.5 637V647M123.5 637V675M330.5 637V675M133.5 605V661M320.5 605V661M133 660.5H321M123 674.5H331M144 688.5H226M228 688.5H310M144 711.5H226M228 711.5H310M117 700.5H123M331 700.5H337M123 700.5H226M228 700.5H260M262 700.5H267M269 700.5H331M194.5 688V712M123 725.5H144M310 725.5H331M143.5 716V726M310.5 716V726M123.5 716V754M330.5 716V754M133.5 684V740M320.5 684V740M133 739.5H321M123 753.5H331M70 574.5H115.4M86 589.5H115.4M413 609.5H540M542 609.5H669M413 632.5H540M542 632.5H669M413 620.5H430M652 620.5H669M463 620.5H463.3M464.8 620.5H510.8M512.3 620.5H515.9M517.4 620.5H540M542 620.5H563.4M564.9 620.5H568.5M570 620.5H616M617.5 620.5H621M508.5 609V633M436.5 606V636M447.5 606V636M634.5 606V636M645.5 606V636M447 646.5H481M457.5 637V647M601 646.5H635M624.5 637V647M428 660.5H654M441.5 637V661M447.5 640V661M634.5 640V661M640.5 637V661M413 688.5H540M542 688.5H669M413 711.5H540M542 711.5H669M413 700.5H430M652 700.5H669M459.7 700.5H463.3M464.8 700.5H510.8M512.3 700.5H515.9M517.4 700.5H540M542 700.5H563.4M564.9 700.5H568.5M570 700.5H616M617.5 700.5H621.1M622.6 700.5H623M508.5 688V712M436.5 685V715M447.5 685V715M634.5 685V715M645.5 685V715M447 725.5H481M457.5 716V726M601 725.5H635M624.5 716V726M428 739.5H654M441.5 716V740M447.5 719V740M634.5 719V740M640.5 716V740M384 574.5H429M389 593.5H429.5M767 76.5H830M767 79.5H830M834 76.5H852M834 79.5H852M852 76.5H899M851.5 62V81M776 80.5H821M778 82.5H819M778 103.5H819M778 181.5H819M778 201.5H819M852 204.5H899M851.5 204V219M875.5 44V205M898.5 76V205M834 104.5H875M834 180.5H875M777.5 209V229M820.5 209V229M777 227.5H821M1031 76.5H1079M1030.5 62V78M958 82.5H998M958 103.5H998M958 181.5H998M958 201.5H998M1031 204.5H1079M1030.5 204V219M1054.5 44V205M1078.5 76V205M1013 104.5H1054M1013 180.5H1054M957.5 209V229M999.5 209V229M957 227.5H1000M773 308.5H786M773.5 308V342M785.5 308V342M756.5 328V358M756 328.5H774M756 357.5H774M774 342.5H783M757 415.5H832M731 510.5H1135M731 728.5H1135M731.5 510V729M1134.5 510V729M777.5 510V728M890.5 510V728M731 530.5H1134M731 549.5H1134M731 569.5H1134M776 589.5H1134M776 609.5H1134M776 629.5H1134M776 649.5H1134M731 669.5H1134M731 688.5H1134M776 708.5H1134"/>
<path class="c" stroke-width="1.5" d="M956 80.75H1000"/>
<path class="c" stroke-width="2" d="M213 60V72M241 60V72M212 71H224M231 71H242M214 85V109M240 85V109M213 108H224M231 108H241M225 193V453M527 60V72M555 60V72M526 71H538M545 71H556M540 77V91M539 193V453M537 417V422M544 417V422M146 623H226M228 623H308M461 623H540M542 623H622M777 80V204M820 80V204M767 204H830M834 204H852M946 77H1009M1013 77H1031M957 78V204M999 78V204M946 204H1009M1013 204H1031"/>
<path class="c" stroke-width="3" d="M223 419.5H232"/>
<path class="a" stroke-width="1.15" d="M218 123.5L222 121.5M233 121.5L237 123.5M197 53.5L211.9 65.2M188 66.5L198.8 74.3M191 103.5L213.4 85.9M195 116.5L213.4 100.6M193 156.5L215 140M203.4 169.5L224.9 153M194.1 516.5L215 531.3M198.4 530.5L215.5 542.2M193 199.5L215.1 182.5M182.5 214.5L215.8 189M178.6 226.5L223 193.6M202 305.5L224 322.3M202 439.5L219.6 452M207 401.5L224.5 418.6M243.4 404.5L229.5 418.6M493.6 47.5L525.6 66.4M493 62.5L511.3 73.5M514 97.5L535.4 80.7M507.3 122.5L528.5 106.2M517 136.5L539.3 119.6M507.1 516.5L529 531.3M512.7 538.5L529.5 551M506 199.5L529.1 182.5M495.5 214.5L529.8 189M491.6 226.5L536 193.6M515 305.5L537 322.3M515 439.5L533.6 452M521 401.5L538.5 418.6M557.4 404.5L543.5 418.6M115.4 574.5L133 608M115.4 589.5L125 608M429 574.5L447 608M429.5 593.5L437 608.3M778 83L819 103M778 103L819 83M778 182L819 201M778 201L819 182M958 83L998 103M958 103L998 83M958 182L998 201M958 201L998 182"/>
<g class="k"><path class="aa" d="M227.5 60L229.5 64H225.5Z"/>
<rect x="211.8" y="117.8" width="3.4" height="3.4"/>
<rect x="239.8" y="117.8" width="3.4" height="3.4"/>
<rect x="214" y="506" width="3" height="3"/>
<rect x="237" y="506" width="3" height="3"/>
<rect x="265" y="75" width="3" height="3"/>
<rect x="265" y="107" width="3" height="3"/>
<rect x="265" y="123" width="3" height="3"/>
<rect x="265" y="151" width="3" height="3"/>
<rect x="265" y="171" width="3" height="3"/>
<rect x="265" y="191" width="3" height="3"/>
<rect x="294" y="181" width="3" height="3"/>
<rect x="265" y="451" width="3" height="3"/>
<rect x="265" y="470" width="3" height="3"/>
<rect x="294" y="461" width="3" height="3"/>
<rect x="265" y="523" width="3" height="3"/>
<rect x="265" y="551" width="3" height="3"/>
<rect x="265" y="557" width="3" height="3"/>
<rect x="280" y="523" width="3" height="3"/>
<rect x="280" y="557" width="3" height="3"/>
<rect x="294" y="75" width="3" height="3"/>
<rect x="294" y="557" width="3" height="3"/>
<rect x="308" y="75" width="3" height="3"/>
<rect x="308" y="557" width="3" height="3"/>
<path class="aa" d="M211.9 65.2L206.01 62.99L208.35 60Z"/>
<path class="aa" d="M198.8 74.3L192.82 72.33L195.05 69.25Z"/>
<path class="aa" d="M213.4 85.9L209.86 91.1L207.51 88.11Z"/>
<path class="aa" d="M213.4 100.6L210.1 105.96L207.62 103.09Z"/>
<path class="aa" d="M215 140L211.34 145.12L209.06 142.08Z"/>
<path class="aa" d="M224.9 153L221.3 158.16L218.98 155.15Z"/>
<path class="aa" d="M215 531.3L209.01 529.38L211.2 526.28Z"/>
<path class="aa" d="M215.5 542.2L209.48 540.38L211.62 537.24Z"/>
<path class="aa" d="M215.1 182.5L211.5 187.66L209.19 184.65Z"/>
<path class="aa" d="M215.8 189L212.19 194.16L209.88 191.14Z"/>
<path class="aa" d="M223 193.6L219.31 198.7L217.05 195.65Z"/>
<path class="aa" d="M224 322.3L218.08 320.17L220.38 317.15Z"/>
<path class="aa" d="M219.6 452L213.61 450.07L215.81 446.98Z"/>
<path class="aa" d="M540.5 60L542.5 64H538.5Z"/>
<rect x="528" y="506" width="3" height="3"/>
<rect x="551" y="506" width="3" height="3"/>
<rect x="579" y="75" width="3" height="3"/>
<rect x="579" y="89" width="3" height="3"/>
<rect x="579" y="118" width="3" height="3"/>
<rect x="579" y="171" width="3" height="3"/>
<rect x="579" y="191" width="3" height="3"/>
<rect x="607" y="181" width="3" height="3"/>
<rect x="579" y="451" width="3" height="3"/>
<rect x="579" y="470" width="3" height="3"/>
<rect x="607" y="461" width="3" height="3"/>
<rect x="579" y="523" width="3" height="3"/>
<rect x="579" y="551" width="3" height="3"/>
<rect x="579" y="557" width="3" height="3"/>
<rect x="593" y="523" width="3" height="3"/>
<rect x="593" y="557" width="3" height="3"/>
<rect x="607" y="75" width="3" height="3"/>
<rect x="607" y="557" width="3" height="3"/>
<rect x="622" y="75" width="3" height="3"/>
<rect x="622" y="557" width="3" height="3"/>
<path class="aa" d="M525.6 66.4L519.47 64.98L521.4 61.71Z"/>
<path class="aa" d="M511.3 73.5L505.18 72.04L507.14 68.78Z"/>
<path class="aa" d="M535.4 80.7L531.85 85.9L529.51 82.91Z"/>
<path class="aa" d="M528.5 106.2L524.9 111.36L522.59 108.35Z"/>
<path class="aa" d="M539.3 119.6L535.67 124.74L533.37 121.71Z"/>
<path class="aa" d="M529 531.3L522.96 529.51L525.09 526.37Z"/>
<path class="aa" d="M529.5 551L523.55 548.94L525.82 545.89Z"/>
<path class="aa" d="M529.1 182.5L525.39 187.59L523.14 184.53Z"/>
<path class="aa" d="M529.8 189L526.12 194.1L523.85 191.05Z"/>
<path class="aa" d="M536 193.6L532.31 198.7L530.05 195.65Z"/>
<path class="aa" d="M537 322.3L531.08 320.17L533.38 317.15Z"/>
<path class="aa" d="M533.6 452L527.56 450.23L529.68 447.08Z"/>
<rect x="193" y="608" width="3" height="3"/>
<rect x="193" y="631" width="3" height="3"/>
<rect x="122" y="645" width="3" height="3"/>
<rect x="142" y="645" width="3" height="3"/>
<rect x="309" y="645" width="3" height="3"/>
<rect x="329" y="645" width="3" height="3"/>
<rect x="132" y="659" width="3" height="3"/>
<rect x="319" y="659" width="3" height="3"/>
<rect x="122" y="673" width="3" height="3"/>
<rect x="329" y="673" width="3" height="3"/>
<rect x="193" y="687" width="3" height="3"/>
<rect x="193" y="710" width="3" height="3"/>
<rect x="122" y="724" width="3" height="3"/>
<rect x="142" y="724" width="3" height="3"/>
<rect x="309" y="724" width="3" height="3"/>
<rect x="329" y="724" width="3" height="3"/>
<rect x="132" y="738" width="3" height="3"/>
<rect x="319" y="738" width="3" height="3"/>
<rect x="122" y="752" width="3" height="3"/>
<rect x="329" y="752" width="3" height="3"/>
<path class="aa" d="M133 608L128.53 603.57L131.89 601.8Z"/>
<path class="aa" d="M125 608L120.55 603.55L123.92 601.8Z"/>
<rect x="507" y="608" width="3" height="3"/>
<rect x="507" y="631" width="3" height="3"/>
<rect x="446" y="645" width="3" height="3"/>
<rect x="456" y="645" width="3" height="3"/>
<rect x="633" y="645" width="3" height="3"/>
<rect x="623" y="645" width="3" height="3"/>
<rect x="440" y="659" width="3" height="3"/>
<rect x="446" y="659" width="3" height="3"/>
<rect x="633" y="659" width="3" height="3"/>
<rect x="639" y="659" width="3" height="3"/>
<rect x="507" y="687" width="3" height="3"/>
<rect x="507" y="710" width="3" height="3"/>
<rect x="446" y="724" width="3" height="3"/>
<rect x="456" y="724" width="3" height="3"/>
<rect x="633" y="724" width="3" height="3"/>
<rect x="623" y="724" width="3" height="3"/>
<rect x="440" y="738" width="3" height="3"/>
<rect x="446" y="738" width="3" height="3"/>
<rect x="633" y="738" width="3" height="3"/>
<rect x="639" y="738" width="3" height="3"/>
<path class="aa" d="M447 608L442.49 603.61L445.83 601.82Z"/>
<path class="aa" d="M437 608.3L432.59 603.81L435.98 602.09Z"/>
<rect x="850" y="76" width="3" height="4.5"/>
<rect x="849.8" y="202.8" width="3.4" height="3.4"/>
<rect x="874" y="75" width="3" height="3"/>
<rect x="874" y="103" width="3" height="3"/>
<rect x="874" y="179" width="3" height="3"/>
<rect x="874" y="203" width="3" height="3"/>
<rect x="897" y="75" width="3" height="3"/>
<rect x="897" y="203" width="3" height="3"/>
<rect x="776" y="226" width="3" height="3"/>
<rect x="819" y="226" width="3" height="3"/>
<rect x="1028.8" y="75.3" width="3.4" height="3.4"/>
<rect x="1028.8" y="202.8" width="3.4" height="3.4"/>
<rect x="1053" y="75" width="3" height="3"/>
<rect x="1053" y="103" width="3" height="3"/>
<rect x="1053" y="179" width="3" height="3"/>
<rect x="1053" y="203" width="3" height="3"/>
<rect x="1077" y="75" width="3" height="3"/>
<rect x="1077" y="203" width="3" height="3"/>
<rect x="956" y="226" width="3" height="3"/>
<rect x="998" y="226" width="3" height="3"/>
<path class="aa" fill="none" stroke="#000" stroke-width="2.2" d="M768 360.84L779.47 387.5M768 331.44L792.12 387.5M768 353.76L781.88 321.5M776.37 321.5L804.77 387.5M768 383.16L794.53 321.5M789.02 321.5L817.42 387.5M778.78 387.5L807.18 321.5M801.67 321.5L826.5 379.2M791.43 387.5L819.83 321.5M814.32 321.5L826.5 349.8M804.08 387.5L826.5 335.4M816.73 387.5L826.5 364.8"/>
<path class="aa" fill="none" stroke="#000" stroke-width="3.4" d="M772.8 339.4V345.8M779.12 324.7V331.1M785.45 339.4V345.8M791.77 324.7V331.1M798.1 339.4V345.8M804.42 324.7V331.1M810.75 339.4V345.8M817.08 324.7V331.1M823.4 339.4V345.8M772.8 368.8V375.2M779.12 354.1V360.5M785.45 368.8V375.2M791.77 354.1V360.5M798.1 368.8V375.2M804.42 354.1V360.5M810.75 368.8V375.2M817.08 354.1V360.5M823.4 368.8V375.2"/>
<rect x="772" y="307" width="3" height="3"/>
<rect x="784" y="307" width="3" height="3"/>
<rect x="755" y="327" width="3" height="3"/>
<rect x="755" y="356" width="3" height="3"/>
<path class="aa" fill="none" stroke="#000" stroke-width="1.2" d="M747.5 499L753.7 494.3L760 499L753.7 503.7Z"/></g>
<g opacity=".999"><text transform="translate(219 118) scale(.85 1)" font-size="12" text-anchor="middle">49</text>
<text transform="translate(227.5 505) scale(.9 1)" font-size="11" text-anchor="middle">40</text>
<text transform="translate(263.8 92.5) rotate(-90) scale(.95 1)" font-size="11" text-anchor="middle">57</text>
<text transform="translate(263.8 116.5) rotate(-90) scale(.95 1)" font-size="11" text-anchor="middle">27</text>
<text transform="translate(263.8 138.5) rotate(-90) scale(.95 1)" font-size="11" text-anchor="middle">50</text>
<text transform="translate(263.8 182.5) rotate(-90) scale(.95 1)" font-size="11" text-anchor="middle">35</text>
<text transform="translate(263.8 462.5) rotate(-90) scale(.95 1)" font-size="11" text-anchor="middle">35</text>
<text transform="translate(263.8 538.5) rotate(-90) scale(.95 1)" font-size="11" text-anchor="middle">50</text>
<text transform="translate(263.8 565.5) rotate(-90) scale(.95 1)" font-size="11" text-anchor="middle">10</text>
<text transform="translate(278.8 541.5) rotate(-90) scale(.95 1)" font-size="11" text-anchor="middle">60</text>
<text transform="translate(292.7 129.5) rotate(-90) scale(.82 1)" font-size="9.6" text-anchor="middle">ランマ<tspan font-size="11">H</tspan></text>
<text transform="translate(292.7 322) rotate(-90) scale(.9 1)" font-size="9.6" text-anchor="middle"><tspan font-size="11">1600 </tspan>(固定)</text>
<text transform="translate(292.7 510.5) rotate(-90) scale(.9 1)" font-size="9.6" text-anchor="middle"><tspan font-size="11">500 </tspan>(固定)</text>
<text transform="translate(306.5 318) rotate(-90) scale(.9 1)" font-size="11" text-anchor="middle">CH (MAX=3000)</text>
<text class="t2" transform="translate(348 87) scale(.95 1)" font-size="12.5">CL</text>
<text class="t2" transform="translate(351.5 556.5) scale(.95 1)" font-size="12.5">FL</text>
<text transform="translate(124 50.5) scale(.82 1)" font-size="9.6"><tspan font-size="11">M</tspan>バー(建築工事)</text>
<text transform="translate(124 63.5) scale(.82 1)" font-size="9.6">天井(建築工事)</text>
<text transform="translate(138 100.5) scale(.82 1)" font-size="9.6">ガイドレール</text>
<text transform="translate(134 113.5) scale(.82 1)" font-size="9.6">ガイドローラー</text>
<text transform="translate(148.5 153.5) scale(.82 1)" font-size="9.6">上フレーム</text>
<text transform="translate(173.3 166.5) scale(.82 1)" font-size="9.6">カバー</text>
<text transform="translate(148.5 513.5) scale(.82 1)" font-size="9.6">下フレーム</text>
<text transform="translate(153.8 527.5) scale(.82 1)" font-size="9.6">キャスター</text>
<text transform="translate(148.5 196.5) scale(.82 1)" font-size="9.6">横フレーム</text>
<text transform="translate(160.3 211.5) scale(.82 1)" font-size="9.6">押縁</text>
<text transform="translate(149.2 223.5) scale(.82 1)" font-size="9.6">ビート</text>
<text transform="translate(125 302.5) scale(.82 1)" font-size="9.6">エキスパンドメタル</text>
<text transform="translate(119 436.5) scale(.82 1)" font-size="9.6">セッティングブロック</text>
<text transform="translate(189.7 399.5) scale(.9 1)" font-size="11">2.3</text>
<text transform="translate(246 401.5) scale(.9 1)" font-size="11">7.7</text>
<text transform="translate(540.5 505) scale(.9 1)" font-size="11" text-anchor="middle">40</text>
<text transform="translate(577.8 83.5) rotate(-90) scale(.95 1)" font-size="11" text-anchor="middle">25</text>
<text transform="translate(577.8 104.5) rotate(-90) scale(.95 1)" font-size="11" text-anchor="middle">50</text>
<text transform="translate(577.8 182.5) rotate(-90) scale(.95 1)" font-size="11" text-anchor="middle">35</text>
<text transform="translate(577.8 462.5) rotate(-90) scale(.95 1)" font-size="11" text-anchor="middle">35</text>
<text transform="translate(577.8 538.5) rotate(-90) scale(.95 1)" font-size="11" text-anchor="middle">50</text>
<text transform="translate(577.8 565.5) rotate(-90) scale(.95 1)" font-size="11" text-anchor="middle">10</text>
<text transform="translate(591.8 541.5) rotate(-90) scale(.95 1)" font-size="11" text-anchor="middle">60</text>
<text transform="translate(605.7 129.5) rotate(-90) scale(.82 1)" font-size="9.6" text-anchor="middle">ランマ<tspan font-size="11">H</tspan></text>
<text transform="translate(605.7 322) rotate(-90) scale(.9 1)" font-size="9.6" text-anchor="middle"><tspan font-size="11">1600 </tspan>(固定)</text>
<text transform="translate(605.7 510.5) rotate(-90) scale(.9 1)" font-size="9.6" text-anchor="middle"><tspan font-size="11">500 </tspan>(固定)</text>
<text transform="translate(620.5 318) rotate(-90) scale(.9 1)" font-size="11" text-anchor="middle">CH (MAX=3000)</text>
<text class="t2" transform="translate(662 87) scale(.95 1)" font-size="12.5">CL</text>
<text class="t2" transform="translate(665.5 556.5) scale(.95 1)" font-size="12.5">FL</text>
<text transform="translate(420.5 44.5) scale(.82 1)" font-size="9.6"><tspan font-size="11">M</tspan>バー(建築工事)</text>
<text transform="translate(428.5 59.5) scale(.82 1)" font-size="9.6">天井(建築工事)</text>
<text transform="translate(467.5 94.5) scale(.82 1)" font-size="9.6">天井レール</text>
<text transform="translate(462 119.5) scale(.82 1)" font-size="9.6">上フレーム</text>
<text transform="translate(487 133.5) scale(.82 1)" font-size="9.6">カバー</text>
<text transform="translate(461.5 513.5) scale(.82 1)" font-size="9.6">下フレーム</text>
<text transform="translate(475.6 535.5) scale(.82 1)" font-size="9.6">床レール</text>
<text transform="translate(461.5 196.5) scale(.82 1)" font-size="9.6">横フレーム</text>
<text transform="translate(473.3 211.5) scale(.82 1)" font-size="9.6">押縁</text>
<text transform="translate(462.2 223.5) scale(.82 1)" font-size="9.6">ビート</text>
<text transform="translate(438 302.5) scale(.82 1)" font-size="9.6">エキスパンドメタル</text>
<text transform="translate(432 436.5) scale(.82 1)" font-size="9.6">セッティングブロック</text>
<text transform="translate(503.7 399.5) scale(.9 1)" font-size="11">2.3</text>
<text transform="translate(560 401.5) scale(.9 1)" font-size="11">7.7</text>
<text transform="translate(227.8 30) scale(1.1 1)" font-size="14" letter-spacing="1" text-anchor="middle" stroke-width=".18">移動タイプ</text>
<text transform="translate(541.5 30) scale(1.1 1)" font-size="14" letter-spacing="1" text-anchor="middle" stroke-width=".18">固定タイプ</text>
<text transform="translate(191.8 620.5) rotate(-90) scale(.95 1)" font-size="10.5" text-anchor="middle">40</text>
<text transform="translate(133.5 643.5) scale(.9 1)" font-size="10.5" text-anchor="middle">35</text>
<text transform="translate(320.5 643.5) scale(.9 1)" font-size="10.5" text-anchor="middle">35</text>
<text transform="translate(226.5 657.5) scale(.82 1)" font-size="9.6" text-anchor="middle"><tspan font-size="11">W=900</tspan>(固定)</text>
<text transform="translate(227 671.5) scale(.9 1)" font-size="10.5" text-anchor="middle">935</text>
<text transform="translate(191.8 700.5) rotate(-90) scale(.95 1)" font-size="10.5" text-anchor="middle">40</text>
<text transform="translate(133.5 722.5) scale(.9 1)" font-size="10.5" text-anchor="middle">35</text>
<text transform="translate(320.5 722.5) scale(.9 1)" font-size="10.5" text-anchor="middle">35</text>
<text transform="translate(226.5 736.5) scale(.82 1)" font-size="9.6" text-anchor="middle"><tspan font-size="11">W=900</tspan>(固定)</text>
<text transform="translate(227 750.5) scale(.9 1)" font-size="10.5" text-anchor="middle">935</text>
<text transform="translate(71.3 571.5) scale(.82 1)" font-size="9.6">縦フレーム</text>
<text transform="translate(86.4 586.5) scale(.82 1)" font-size="9.6">カバー</text>
<text transform="translate(505.8 620.5) rotate(-90) scale(.95 1)" font-size="10.5" text-anchor="middle">40</text>
<text transform="translate(460.5 643.5) scale(.9 1)" font-size="11">17.5</text>
<text transform="translate(621.5 643.5) scale(.9 1)" font-size="11" text-anchor="end">17.5</text>
<text transform="translate(439 657.5) scale(.9 1)" font-size="11" text-anchor="end">10</text>
<text transform="translate(643.3 657.5) scale(.9 1)" font-size="11">10</text>
<text transform="translate(541 657.5) scale(.82 1)" font-size="9.6" text-anchor="middle"><tspan font-size="11">W=900</tspan>(固定)</text>
<text transform="translate(505.8 700.5) rotate(-90) scale(.95 1)" font-size="10.5" text-anchor="middle">40</text>
<text transform="translate(460.5 722.5) scale(.9 1)" font-size="11">17.5</text>
<text transform="translate(621.5 722.5) scale(.9 1)" font-size="11" text-anchor="end">17.5</text>
<text transform="translate(439 736.5) scale(.9 1)" font-size="11" text-anchor="end">10</text>
<text transform="translate(643.3 736.5) scale(.9 1)" font-size="11">10</text>
<text transform="translate(541 736.5) scale(.82 1)" font-size="9.6" text-anchor="middle"><tspan font-size="11">W=900</tspan>(固定)</text>
<text transform="translate(385 571.5) scale(.82 1)" font-size="9.6">縦フレーム</text>
<text transform="translate(390 590.5) scale(.82 1)" font-size="9.6">ゴム板</text>
<text transform="translate(390 603.5) scale(.9 1)" font-size="11">5X11</text>
<text transform="translate(390 616.5) scale(.9 1)" font-size="11">L=1600</text>
<text transform="translate(848.8 68) rotate(-90) scale(.95 1)" font-size="10" text-anchor="middle">57</text>
<text transform="translate(848.8 212) rotate(-90) scale(.95 1)" font-size="10" text-anchor="middle">10</text>
<text transform="translate(871.7 59) rotate(-90) scale(.82 1)" font-size="9.6" text-anchor="middle">ランマ<tspan font-size="11">H</tspan></text>
<text transform="translate(872.8 142) rotate(-90) scale(.87 1)" font-size="11" text-anchor="middle">1600</text>
<text transform="translate(872.8 192.3) rotate(-90) scale(.9 1)" font-size="11" text-anchor="middle">500</text>
<text transform="translate(895.8 140.3) rotate(-90) scale(.72 1)" font-size="11" text-anchor="middle">CH</text>
<text transform="translate(799 224.5) scale(.9 1)" font-size="11" text-anchor="middle">900</text>
<text transform="translate(1027.8 68.5) rotate(-90) scale(.95 1)" font-size="10" text-anchor="middle">25</text>
<text transform="translate(1027.8 212) rotate(-90) scale(.95 1)" font-size="10" text-anchor="middle">10</text>
<text transform="translate(1050.7 59) rotate(-90) scale(.82 1)" font-size="9.6" text-anchor="middle">ランマ<tspan font-size="11">H</tspan></text>
<text transform="translate(1051.8 142) rotate(-90) scale(.87 1)" font-size="11" text-anchor="middle">1600</text>
<text transform="translate(1051.8 192.3) rotate(-90) scale(.9 1)" font-size="11" text-anchor="middle">500</text>
<text transform="translate(1075.8 140.3) rotate(-90) scale(.72 1)" font-size="11" text-anchor="middle">CH</text>
<text transform="translate(978.5 224.5) scale(.9 1)" font-size="11" text-anchor="middle">900</text>
<text transform="translate(798.5 250) scale(.82 1)" font-size="9.6" text-anchor="middle">＜移動タイプ＞</text>
<text transform="translate(977.7 250) scale(.82 1)" font-size="9.6" text-anchor="middle">＜固定タイプ＞</text>
<text transform="translate(779.5 305.5) scale(.9 1)" font-size="10.5" text-anchor="middle">22</text>
<text transform="translate(753.8 343) rotate(-90) scale(.95 1)" font-size="10.5" text-anchor="middle">50.8</text>
<text transform="translate(794.5 413.5) scale(.82 1)" font-size="9.6" text-anchor="middle">メッシュ寸法詳細</text>
<text transform="translate(737.6 524.3) scale(.82 1)" font-size="9.6" letter-spacing="2.44">項　目</text>
<text transform="translate(782.3 524.3) scale(.82 1)" font-size="9.6" letter-spacing="4.88">部　材</text>
<text transform="translate(896 524.3) scale(.82 1)" font-size="9.6" letter-spacing="3.78">材　料(板厚<tspan font-size="11">mm</tspan>)</text>
<text transform="translate(737 544.3) scale(.82 1)" font-size="9.6" letter-spacing="3.17">レール</text>
<text transform="translate(782.3 544.3) scale(.82 1)" font-size="9.6">ガイドレール</text>
<text transform="translate(896 544.3) scale(.82 1)" font-size="9.6">アルミ押出形材　(焼付塗装仕上)</text>
<text transform="translate(737 563.3) scale(.82 1)" font-size="9.6" letter-spacing="3.17">骨材</text>
<text transform="translate(782.3 563.3) scale(.82 1)" font-size="9.6">天井レール・床レール</text>
<text transform="translate(896 563.3) scale(.82 1)" font-size="9.6">冷間圧延鋼板　<tspan font-size="11">1.0mm</tspan>　(焼付塗装仕上)</text>
<text transform="translate(737 583.3) scale(.82 1)" font-size="9.6">枠</text>
<text transform="translate(782.3 583.3) scale(.82 1)" font-size="9.6">上フレーム・下フレーム</text>
<text transform="translate(896 583.3) scale(.82 1)" font-size="9.6">アルミ押出形材　(焼付塗装仕上)</text>
<text transform="translate(782.3 603.3) scale(.82 1)" font-size="9.6">縦フレーム・横フレーム</text>
<text transform="translate(896 603.3) scale(.82 1)" font-size="9.6">アルミ押出形材　(焼付塗装仕上)</text>
<text transform="translate(782.3 623.3) scale(.82 1)" font-size="9.6">カバー</text>
<text transform="translate(896 623.3) scale(.82 1)" font-size="9.6">アルミ押出形材　(焼付塗装仕上)</text>
<text transform="translate(782.3 643.3) scale(.82 1)" font-size="9.6">押縁</text>
<text transform="translate(896 643.3) scale(.82 1)" font-size="9.6">アルミ押出形材　(焼付塗装仕上)</text>
<text transform="translate(782.3 663.3) scale(.82 1)" font-size="9.6">ビート</text>
<text transform="translate(896 663.3) scale(.82 1)" font-size="9.6">ポリ塩化ビニル　(ブラック色)</text>
<text transform="translate(737 683.3) scale(.82 1)" font-size="9.6" letter-spacing="3.17">パネル</text>
<text transform="translate(782.3 683.3) scale(.82 1)" font-size="9.6">エキスパンドメタル</text>
<text transform="translate(896 683.3) scale(.82 1)" font-size="9.6">鋼製圧延鋼網板　<tspan font-size="11">2.3mm</tspan>　(焼付塗装仕上)</text>
<text transform="translate(737 702.3) scale(.82 1)" font-size="9.6" letter-spacing="3.17">金物</text>
<text transform="translate(782.3 702.3) scale(.82 1)" font-size="9.6">ガイドローラー</text>
<text transform="translate(896 702.3) scale(.82 1)" font-size="9.6">ウレタン</text>
<text transform="translate(782.3 722.3) scale(.82 1)" font-size="9.6">キャスター</text>
<text transform="translate(896 722.3) scale(.82 1)" font-size="9.6">ナイロン</text>
<text transform="translate(766 504.3) scale(1.15 1)" font-size="15" letter-spacing=".6" stroke-width=".12">仕様表</text>
<text transform="translate(1128 504) scale(.82 1)" font-size="9.2" text-anchor="end">(小松ウオール　<tspan font-size="10.6">DECO FRAME</tspan>)</text>
<text class="t2" transform="translate(45.5 790.7) scale(1.05 1)" font-size="16" letter-spacing="4.1">DECO</text>
<text class="t2" transform="translate(124.8 790.7) scale(1.05 1)" font-size="16" letter-spacing="4.1">FRAME</text>
<text transform="translate(46 813.5)" font-size="15" letter-spacing=".7" stroke-width=".19">エキスパンドメタル</text></g>
</svg></body></html>
